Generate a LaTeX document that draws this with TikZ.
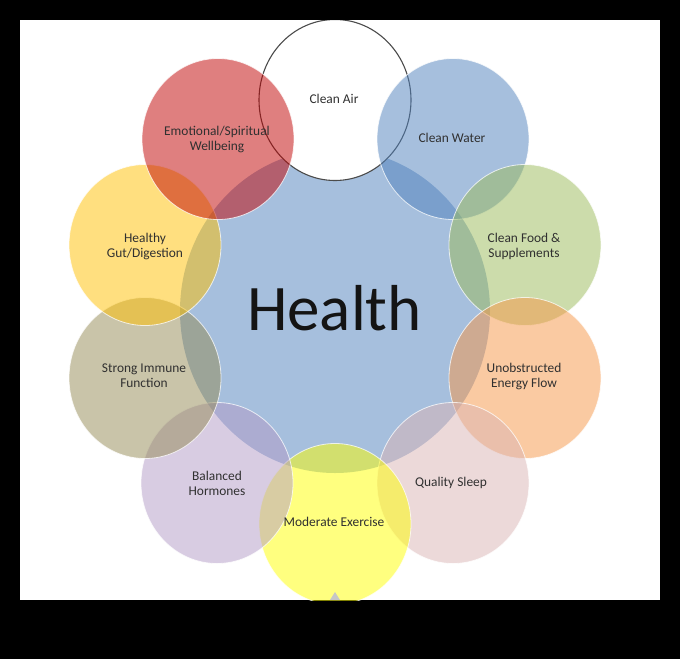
\documentclass[tikz,border=0pt]{standalone}
\usepackage{fontspec}
\setmainfont{Carlito}
\usetikzlibrary{shapes.geometric}
\definecolor{cBlue}{RGB}{79,129,189}
\definecolor{cRed}{RGB}{192,0,0}
\definecolor{cGreen}{RGB}{155,187,89}
\definecolor{cGold}{RGB}{255,192,0}
\definecolor{cTan}{RGB}{148,138,84}
\definecolor{cOrange}{RGB}{247,150,70}
\definecolor{cPurple}{RGB}{179,155,199}
\definecolor{cPink}{RGB}{219,181,181}
\definecolor{cYellow}{RGB}{255,255,0}
\definecolor{txt}{RGB}{48,48,48}
\definecolor{airline}{RGB}{75,75,75}
\begin{document}
\begin{tikzpicture}[x=1pt,y=-1pt,
  petal/.style={ellipse, minimum width=152pt, minimum height=161pt, inner sep=0pt, outer sep=0pt,
                fill=#1, fill opacity=0.5, draw=white, draw opacity=0.75, line width=0.8pt},
  hub/.style={ellipse, minimum width=310pt, minimum height=324pt, inner sep=0pt, outer sep=0pt,
                fill=cBlue, fill opacity=0.5},
  airbub/.style={ellipse, minimum width=152pt, minimum height=161pt, inner sep=0pt, outer sep=0pt,
                fill=white, draw=airline, line width=1.1pt},
  lbl/.style={font=\fontsize{13.4}{15}\selectfont, text=txt, align=center, inner sep=0pt},
  big/.style={font=\fontsize{65}{70}\selectfont, text=black!92, inner sep=0pt, anchor=base},
]
\useasboundingbox (0,0) rectangle (680,659);
\fill[black] (0,0) rectangle (680,659);
\fill[white] (20,20) rectangle (660,600);
\begin{scope}
\clip (20,20) rectangle (660,600);
\node[hub] (health) at (335,311) {};
\node[airbub] (air) at (335,100) {};
\node[petal=cBlue] (water) at (453,139) {};
\node[petal=cGreen] (food) at (525,245) {};
\node[petal=cOrange] (energy) at (525,378) {};
\node[petal=cPink] (sleep) at (453,483) {};
\node[petal=cYellow] (exercise) at (335,524) {};
\node[petal=cPurple] (hormones) at (217,483) {};
\node[petal=cTan] (immune) at (145,378) {};
\node[petal=cGold] (gut) at (145,245) {};
\node[petal=cRed] (emotional) at (218,139) {};
\fill[gray!45] (330,600) -- (335,592) -- (340,600) -- cycle;
\end{scope}
\node[lbl] (tAir) at (334,99) {Clean Air};
\node[lbl] (tWater) at (452,138) {Clean Water};
\node[lbl] (tEmo) at (217,139) {Emotional/Spiritual\\Wellbeing};
\node[lbl] (tGut) at (145,246) {Healthy\\Gut/Digestion};
\node[lbl] (tFood) at (524,246) {Clean Food \&\\Supplements};
\node[lbl] (tImm) at (144,376) {Strong Immune\\Function};
\node[lbl] (tEner) at (524,376) {Unobstructed\\Energy Flow};
\node[lbl] (tHorm) at (217,483) {Balanced\\Hormones};
\node[lbl] (tSleep) at (451,483) {Quality Sleep};
\node[lbl] (tEx) at (334,522) {Moderate Exercise};
\node[big] (tHealth) at (334.5,330) {Health};
\end{tikzpicture}
\end{document}
